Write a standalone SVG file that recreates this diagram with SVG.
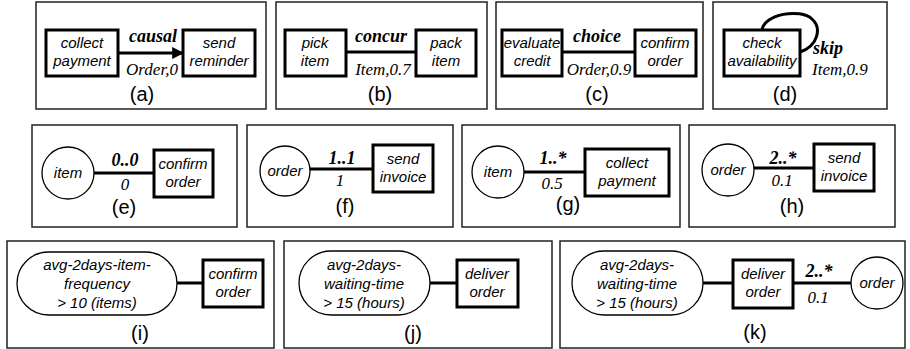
<svg xmlns="http://www.w3.org/2000/svg" width="910" height="349" viewBox="0 0 910 349">
<defs>
<marker id="arr" viewBox="0 0 10 10" refX="9" refY="5" markerWidth="4" markerHeight="4" orient="auto" markerUnits="strokeWidth"><path d="M0,0 L10,5 L0,10 z" fill="#000"/></marker>
</defs>
<style>
.panel{fill:#fff;stroke:#222;stroke-width:1.5}
.box{fill:#fff;stroke:#000;stroke-width:3}
.circ{fill:#fff;stroke:#000;stroke-width:1.3}
.stad{fill:#fff;stroke:#000;stroke-width:1.3}
.edge{fill:none;stroke:#000;stroke-width:3}
.nl{font-family:"Liberation Sans",Arial,sans-serif;font-style:italic;font-size:15px;text-anchor:middle;fill:#000}
.el{font-family:"Liberation Serif","Times New Roman",serif;font-style:italic;font-weight:bold;font-size:18px;text-anchor:middle;fill:#000}
.ev{font-family:"Liberation Serif","Times New Roman",serif;font-style:italic;font-size:17px;text-anchor:middle;fill:#000}
.st{text-anchor:start}
.cap{font-family:"Liberation Sans",Arial,sans-serif;font-size:20px;text-anchor:middle;fill:#000}
</style>
<rect width="910" height="349" fill="#fff"/>
<g id="panels">
<rect class="panel" x="36" y="2" width="230" height="107"/>
<rect class="panel" x="276" y="2" width="211" height="107"/>
<rect class="panel" x="496" y="2" width="207" height="107"/>
<rect class="panel" x="713" y="2" width="174" height="107"/>
<rect class="panel" x="32" y="125" width="205" height="102"/>
<rect class="panel" x="247" y="125" width="206" height="102"/>
<rect class="panel" x="462" y="125" width="218" height="102"/>
<rect class="panel" x="689" y="125" width="206" height="102"/>
<rect class="panel" x="7" y="241" width="267" height="107"/>
<rect class="panel" x="284" y="241" width="268" height="107"/>
<rect class="panel" x="560" y="241" width="345" height="107"/>
</g>
<g id="connectors">
<line class="edge" x1="118" y1="53" x2="183" y2="53" marker-end="url(#arr)"/>
<line class="edge" x1="346" y1="52" x2="416" y2="52"/>
<line class="edge" x1="562" y1="52" x2="635" y2="52"/>
<path class="edge" d="M762,30 C764,14 800,8 812,19 C822,28 818,46 800,52"/>
<line class="edge" x1="94" y1="173" x2="154" y2="173"/>
<line class="edge" x1="310" y1="169" x2="373" y2="169"/>
<line class="edge" x1="524" y1="172" x2="585" y2="172"/>
<line class="edge" x1="754" y1="168" x2="814" y2="168"/>
<line class="edge" x1="177" y1="283" x2="203" y2="283"/>
<line class="edge" x1="430" y1="283" x2="457" y2="283"/>
<line class="edge" x1="703" y1="283" x2="733" y2="283"/>
<line class="edge" x1="793" y1="283" x2="851" y2="283"/>
</g>
<g id="labels">
<text class="el" x="153" y="42">causal</text>
<text class="ev" x="152" y="75">Order,0</text>
<text class="el" x="381" y="42">concur</text>
<text class="ev" x="383" y="75">Item,0.7</text>
<text class="el" x="597" y="42">choice</text>
<text class="ev" x="599" y="75">Order,0.9</text>
<text class="el st" x="813" y="54">skip</text>
<text class="ev st" x="812" y="75">Item,0.9</text>
<text class="el" x="125" y="166">0..0</text>
<text class="ev" x="125" y="190">0</text>
<text class="el" x="342" y="164">1..1</text>
<text class="ev" x="340" y="186">1</text>
<text class="el" x="553" y="164">1..*</text>
<text class="ev" x="552" y="189">0.5</text>
<text class="el" x="783" y="164">2..*</text>
<text class="ev" x="782" y="186">0.1</text>
<text class="el" x="819" y="277">2..*</text>
<text class="ev" x="818" y="303">0.1</text>
</g>
<g id="captions">
<text class="cap" x="142" y="101">(a)</text>
<text class="cap" x="380" y="101">(b)</text>
<text class="cap" x="597" y="101">(c)</text>
<text class="cap" x="785" y="101">(d)</text>
<text class="cap" x="124" y="214">(e)</text>
<text class="cap" x="345" y="213">(f)</text>
<text class="cap" x="568" y="211">(g)</text>
<text class="cap" x="792" y="213">(h)</text>
<text class="cap" x="140" y="340">(i)</text>
<text class="cap" x="413" y="340">(j)</text>
<text class="cap" x="755" y="339">(k)</text>
</g>
<g id="n-collect-payment-a"><rect class="box" x="46" y="30" width="72" height="46"/><text class="nl" x="82" y="48">collect</text><text class="nl" x="82" y="66">payment</text></g>
<g id="n-send-reminder"><rect class="box" x="183" y="30" width="72" height="46"/><text class="nl" x="219" y="48">send</text><text class="nl" x="219" y="66">reminder</text></g>
<g id="n-pick-item"><rect class="box" x="285" y="30" width="61" height="46"/><text class="nl" x="315" y="48">pick</text><text class="nl" x="315" y="66">item</text></g>
<g id="n-pack-item"><rect class="box" x="416" y="30" width="60" height="46"/><text class="nl" x="446" y="48">pack</text><text class="nl" x="446" y="66">item</text></g>
<g id="n-evaluate-credit"><rect class="box" x="502" y="30" width="60" height="46"/><text class="nl" x="532" y="48">evaluate</text><text class="nl" x="532" y="66">credit</text></g>
<g id="n-confirm-order-c"><rect class="box" x="635" y="30" width="61" height="46"/><text class="nl" x="665" y="48">confirm</text><text class="nl" x="665" y="66">order</text></g>
<g id="n-check-availability"><rect class="box" x="724" y="30" width="76" height="46"/><text class="nl" x="762" y="48">check</text><text class="nl" x="762" y="66">availability</text></g>
<g id="n-item-e"><circle class="circ" cx="68" cy="173" r="26"/><text class="nl" x="68" y="178">item</text></g>
<g id="n-confirm-order-e"><rect class="box" x="154" y="150" width="59" height="47"/><text class="nl" x="183" y="169">confirm</text><text class="nl" x="183" y="187">order</text></g>
<g id="n-order-f"><circle class="circ" cx="285" cy="171" r="25"/><text class="nl" x="285" y="176">order</text></g>
<g id="n-send-invoice-f"><rect class="box" x="373" y="145" width="60" height="47"/><text class="nl" x="403" y="164">send</text><text class="nl" x="403" y="182">invoice</text></g>
<g id="n-item-g"><circle class="circ" cx="498" cy="172" r="26"/><text class="nl" x="498" y="177">item</text></g>
<g id="n-collect-payment-g"><rect class="box" x="585" y="149" width="84" height="47"/><text class="nl" x="627" y="168">collect</text><text class="nl" x="627" y="186">payment</text></g>
<g id="n-order-h"><circle class="circ" cx="728" cy="170" r="26"/><text class="nl" x="728" y="175">order</text></g>
<g id="n-send-invoice-h"><rect class="box" x="814" y="144" width="60" height="47"/><text class="nl" x="844" y="163">send</text><text class="nl" x="844" y="181">invoice</text></g>
<g id="n-cond-i"><rect class="stad" x="17" y="252" width="160" height="63" rx="31.5" ry="31.5"/><text class="nl" x="97" y="270">avg-2days-item-</text><text class="nl" x="97" y="289">frequency</text><text class="nl" x="97" y="308">&gt; 10 (items)</text></g>
<g id="n-confirm-order-i"><rect class="box" x="203" y="260" width="60" height="47"/><text class="nl" x="233" y="279">confirm</text><text class="nl" x="233" y="297">order</text></g>
<g id="n-cond-j"><rect class="stad" x="299" y="251" width="131" height="64" rx="32" ry="32"/><text class="nl" x="364" y="270">avg-2days-</text><text class="nl" x="364" y="289">waiting-time</text><text class="nl" x="364" y="308">&gt; 15 (hours)</text></g>
<g id="n-deliver-order-j"><rect class="box" x="457" y="260" width="61" height="47"/><text class="nl" x="487" y="279">deliver</text><text class="nl" x="487" y="297">order</text></g>
<g id="n-cond-k"><rect class="stad" x="572" y="251" width="131" height="64" rx="32" ry="32"/><text class="nl" x="637" y="270">avg-2days-</text><text class="nl" x="637" y="289">waiting-time</text><text class="nl" x="637" y="308">&gt; 15 (hours)</text></g>
<g id="n-deliver-order-k"><rect class="box" x="733" y="260" width="60" height="48"/><text class="nl" x="763" y="279">deliver</text><text class="nl" x="763" y="297">order</text></g>
<g id="n-order-k"><circle class="circ" cx="877" cy="283" r="26"/><text class="nl" x="877" y="288">order</text></g>
</svg>
